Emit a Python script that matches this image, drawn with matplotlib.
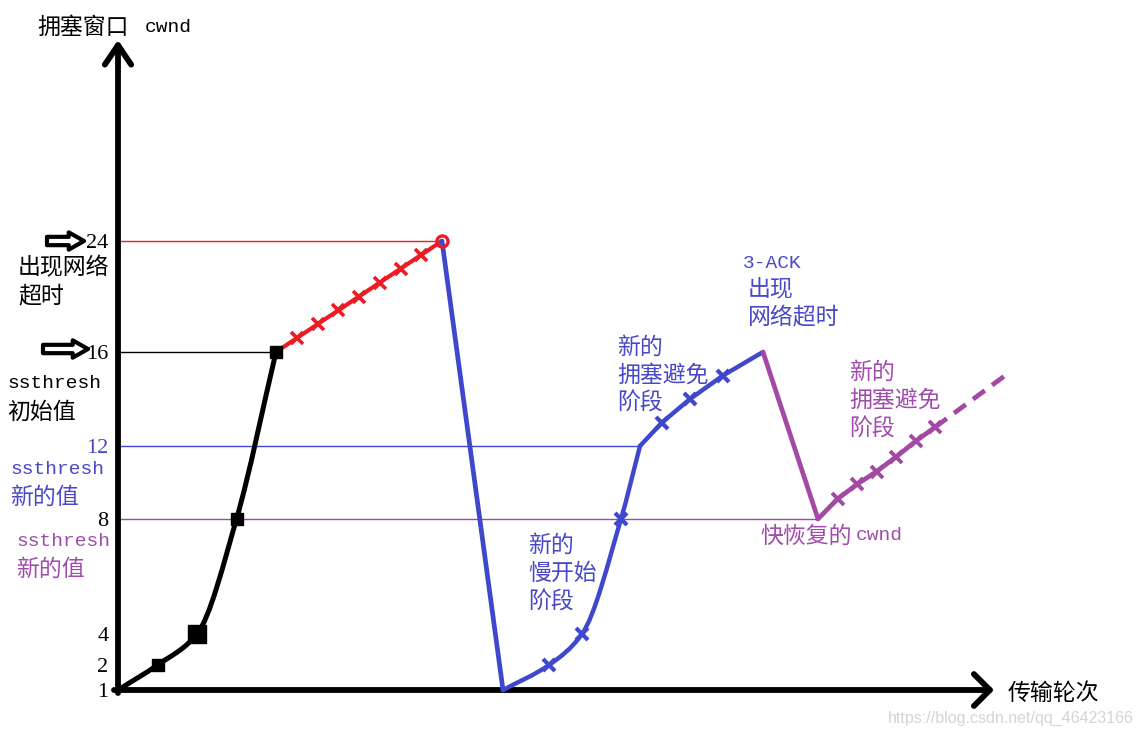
import numpy as np
import matplotlib
matplotlib.use('Agg')
import matplotlib.pyplot as plt
from matplotlib.patches import FancyArrowPatch, PathPatch
from matplotlib.path import Path

W, H = 1141, 736

# --- data: transmission round -> cwnd ---
black_rnd = [0, 1, 2, 3, 4]
black_cwnd = [1, 2, 4, 8, 16]

red_rnd = [4, 5, 6, 7, 8, 9, 10, 11, 12]
red_cwnd = [16, 17, 18, 19, 20, 21, 22, 23, 24]

blue_rnd = [12, 13, 14, 15, 16, 17, 18, 19, 20, 21]
blue_cwnd = [24, 1, 2, 4, 8, 12, 13, 14, 15, 16]

purple_rnd = [21, 22, 23, 24, 25, 26, 27, 28]
purple_cwnd = [16, 8, 9.1, 9.9, 10.6, 11.4, 12.2, 12.8]
dash_rnd = [28, 31.6]
dash_cwnd = [12.8, 15]

# ssthresh guide lines: value, round where they end
thr_vals = [24, 16, 12, 8]
thr_end = [12, 4, 17, 22]

cwnd_ticks = [1, 2, 4, 8, 12, 16, 24]

RED = '#ed1c24'
BLUE = '#3f48cc'
PURPLE = '#a349a4'
BLUE_T = '#4848c8'
PURPLE_T = '#a04cac'

# hand drawn axes are not linear: piecewise scales (pixel anchors)
Y_VAL = [-1, 1, 2, 4, 8, 12, 16, 24, 60]
Y_POS = [-4, 46, 71, 102, 217, 290, 384, 495, 995]
X_VAL = [-10, 0, 4, 12, 13, 14, 15, 16, 17, 18, 19, 20, 21, 22, 60]
X_POS = [-277, 118, 276, 442, 503, 549, 582, 621, 640, 662, 690, 723, 763, 818, 1559]


def fy(v):
    return np.interp(v, Y_VAL, Y_POS)


def fy_inv(p):
    return np.interp(p, Y_POS, Y_VAL)


def fx(v):
    return np.interp(v, X_VAL, X_POS)


def fx_inv(p):
    return np.interp(p, X_POS, X_VAL)


def px(x, y):
    return x / W, 1 - y / H


def smooth(ax, xs, ys, **kw):
    # freehand look: monotone cubic (pchip style) through the points, in scaled space
    x = fx(np.asarray(xs, float))
    y = fy(np.asarray(ys, float))
    h = np.diff(x)
    d = np.diff(y) / h
    m = np.empty_like(x)
    m[0], m[-1] = d[0], d[-1]
    for k in range(1, len(x) - 1):
        if d[k - 1] * d[k] <= 0:
            m[k] = 0
        else:
            w1 = 2 * h[k] + h[k - 1]
            w2 = h[k] + 2 * h[k - 1]
            m[k] = (w1 + w2) / (w1 / d[k - 1] + w2 / d[k])
    verts = [(x[0], y[0])]
    codes = [Path.MOVETO]
    for k in range(len(x) - 1):
        verts += [(x[k] + h[k] / 3, y[k] + m[k] * h[k] / 3),
                  (x[k + 1] - h[k] / 3, y[k + 1] - m[k + 1] * h[k] / 3),
                  (x[k + 1], y[k + 1])]
        codes += [Path.CURVE4] * 3
    verts = np.array(verts)
    verts = np.column_stack([fx_inv(verts[:, 0]), fy_inv(verts[:, 1])])
    ax.add_patch(PathPatch(Path(verts, codes), fill=False, **kw))


CJK = ['Noto Sans CJK SC', 'DejaVu Sans']
MONO = ['Liberation Mono', 'Noto Sans CJK SC']

fig = plt.figure(figsize=(W / 100, H / 100), dpi=100)
ax = fig.add_axes([0, 0, 1, 1])
ax.set_xscale('function', functions=(fx, fx_inv))
ax.set_yscale('function', functions=(fy, fy_inv))
ax.set_xlim(fx_inv(0), fx_inv(W))
ax.set_ylim(fy_inv(0), fy_inv(H))
for s in ax.spines.values():
    s.set_visible(False)
ax.spines['left'].set_position(('data', 0))
ax.set_xticks([])
ax.set_yticks(cwnd_ticks)
ax.set_yticklabels([str(t) for t in cwnd_ticks], family='Liberation Serif', fontsize=16)
ax.tick_params(axis='y', length=0, pad=7)
for lab, t in zip(ax.get_yticklabels(), cwnd_ticks):
    lab.set_color(BLUE_T if t == 12 else 'black')
ax.yaxis.set_minor_locator(matplotlib.ticker.NullLocator())
ax.xaxis.set_minor_locator(matplotlib.ticker.NullLocator())

# guide lines
for v, e, c in zip(thr_vals, thr_end, [RED, 'black', BLUE, PURPLE]):
    ax.plot([0, e], [v, v], color=c, lw=1.0, zorder=1)

# axes with arrows
ax.annotate('', xy=(0, fy_inv(H - 40)), xytext=(0, fy_inv(H - 693)),
            arrowprops=dict(arrowstyle='->,head_length=1.4,head_width=0.95',
                            lw=4.2, color='black', shrinkA=0, shrinkB=0,
                            mutation_scale=10))
ax.annotate('', xy=(fx_inv(994), 1), xytext=(fx_inv(114), 1),
            arrowprops=dict(arrowstyle='->,head_length=1.15,head_width=1.15',
                            lw=4.2, color='black', shrinkA=0, shrinkB=0,
                            mutation_scale=10))

kw = dict(solid_joinstyle='round', solid_capstyle='round', zorder=3)
pk = dict(joinstyle='round', capstyle='round', zorder=3)
smooth(ax, black_rnd, black_cwnd, ec='black', lw=3.6, **pk)
ax.plot(red_rnd, red_cwnd, color=RED, lw=3.0, **kw)
ax.plot(blue_rnd[:2], blue_cwnd[:2], color=BLUE, lw=3.4, **kw)
smooth(ax, blue_rnd[1:6], blue_cwnd[1:6], ec=BLUE, lw=3.2, **pk)
ax.plot(blue_rnd[5:], blue_cwnd[5:], color=BLUE, lw=3.2, **kw)
ax.plot(purple_rnd, purple_cwnd, color=PURPLE, lw=3.4, **kw)
ax.plot(dash_rnd, dash_cwnd, color=PURPLE, lw=3.4, ls=(0, (3.1, 1.9)),
        dash_capstyle='butt', zorder=3)

# marks on each round
for r, c, ms in zip(black_rnd[1:], black_cwnd[1:], [8, 12.5, 8, 9]):
    ax.plot(r, c, 's', color='black', ms=ms, zorder=4)
ax.plot(red_rnd[1:-1], red_cwnd[1:-1], 'x', color=RED, ms=8, mew=2.6, zorder=4)
ax.plot(red_rnd[-1], red_cwnd[-1], 'o', mfc='none', mec=RED, ms=8, mew=2.4, zorder=4)
bm = [2, 3, 4, 6, 7, 8]
ax.plot([blue_rnd[i] for i in bm], [blue_cwnd[i] for i in bm], 'x', color=BLUE,
        ms=9, mew=3, zorder=4)
ax.plot(purple_rnd[2:], purple_cwnd[2:], 'x', color=PURPLE, ms=8, mew=2.8, zorder=4)

# hollow block arrows next to 24 and 16
for y, x0, x1 in [(241, 47, 84), (349, 43, 88)]:
    fig.add_artist(FancyArrowPatch(px(x0, y), px(x1, y), transform=fig.transFigure,
                                   arrowstyle='simple,head_length=1.1,head_width=1.25,tail_width=0.6',
                                   mutation_scale=10, fc='white', ec='black', lw=3,
                                   shrinkA=0, shrinkB=0))


def label(x, y, s, color='black', mono=False):
    if mono:
        fig.text(*px(x, y), s, color=color, family=MONO, fontsize=14, va='center', ha='left')
    else:
        fig.text(*px(x, y), s, color=color, family=CJK, fontsize=16.5, va='center', ha='left')


label(37, 27, '拥塞窗口')
label(145, 27, 'cwnd', mono=True)
label(18, 268, '出现网络')
label(18, 296, '超时')
label(7, 384, 'ssthresh', mono=True)
label(7, 412, '初始值')
label(10, 470, 'ssthresh', BLUE_T, mono=True)
label(10, 497, '新的值', BLUE_T)
label(16, 542, 'ssthresh', PURPLE_T, mono=True)
label(16, 569, '新的值', PURPLE_T)

label(528, 545, '新的', BLUE_T)
label(528, 573, '慢开始', BLUE_T)
label(528, 602, '阶段', BLUE_T)

label(617, 347, '新的', BLUE_T)
label(617, 375, '拥塞避免', BLUE_T)
label(617, 403, '阶段', BLUE_T)

label(743, 263, '3-ACK', BLUE_T, mono=True)
label(748, 289, '出现', BLUE_T)
label(748, 318, '网络超时', BLUE_T)

label(849, 372, '新的', PURPLE_T)
label(849, 400, '拥塞避免', PURPLE_T)
label(849, 429, '阶段', PURPLE_T)

label(760, 536, '快恢复的', PURPLE_T)
label(856, 536, 'cwnd', PURPLE_T, mono=True)

label(1008, 693, '传输轮次')

fig.text(*px(888, 718), 'https://blog.csdn.net/qq_46423166', color='#d4d4d4',
         family='Liberation Sans', fontsize=11.5, va='center', ha='left')

fig.savefig('out.png', dpi=100)
